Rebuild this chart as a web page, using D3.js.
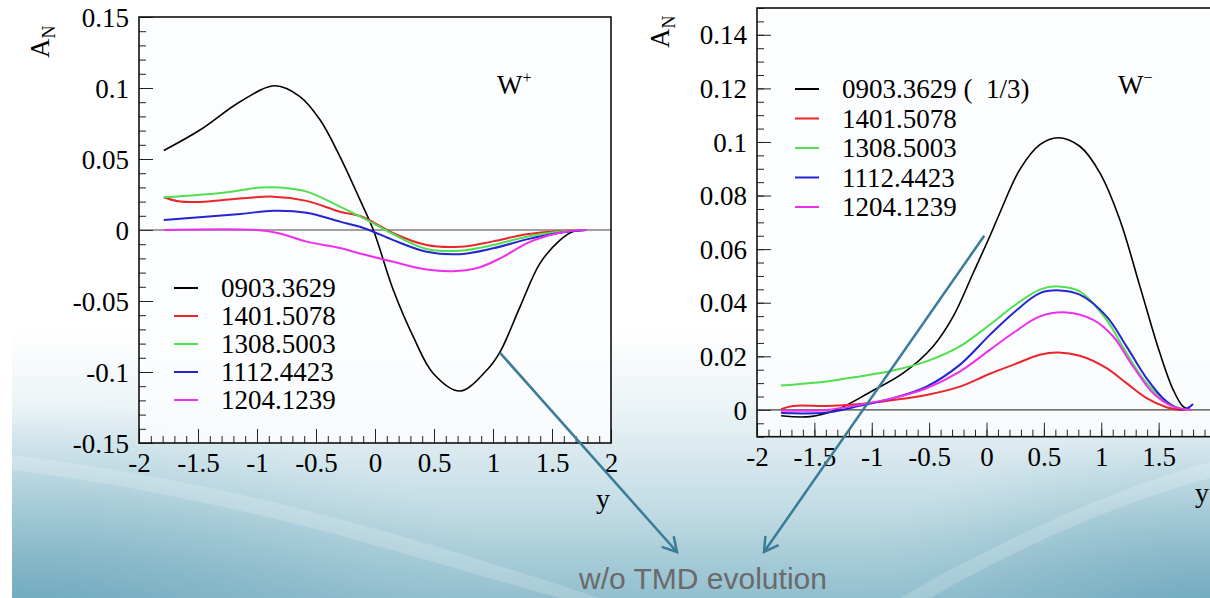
<!DOCTYPE html>
<html>
<head>
<meta charset="utf-8">
<script src="https://cdnjs.cloudflare.com/ajax/libs/d3/7.8.5/d3.min.js"></script>
<style>
body { margin: 0; background: #fff; overflow: hidden; }
svg { display: block; }
.serif { font-family: "Liberation Serif", "Times New Roman", serif; }
</style>
</head>
<body>
<svg id="slide" width="1210" height="598"></svg>
<script>
// tick values
var xTicks = [-2, -1.5, -1, -0.5, 0, 0.5, 1, 1.5, 2];
var yTicksPlus = [-0.15, -0.1, -0.05, 0, 0.05, 0.1, 0.15];
var yTicksMinus = [0, 0.02, 0.04, 0.06, 0.08, 0.1, 0.12, 0.14];

var seriesColors = ["#000000", "#e8262b", "#4fe04f", "#2525d0", "#ee30ee"];
var legendPlus = ["0903.3629", "1401.5078", "1308.5003", "1112.4423", "1204.1239"];
var legendMinus = ["0903.3629 (  1/3)", "1401.5078", "1308.5003", "1112.4423", "1204.1239"];

// W+ panel, [y, A_N]
var wPlus0903 = [[-1.79,0.056],[-1.48,0.0706],[-1.14,0.0905],[-0.847,0.1016],[-0.636,0.094],[-0.466,0.0776],[-0.297,0.0517],[-0.127,0.0212],[-0.014,0],[0.155,-0.0423],[0.325,-0.0753],[0.494,-0.101],[0.72,-0.1134],[0.946,-0.0988],[1.06,-0.0858],[1.229,-0.0541],[1.398,-0.0235],[1.568,-0.0071],[1.68,-0.001],[1.79,0]];
var wPlus1401 = [[-1.79,0.0231],[-1.68,0.0205],[-1.5,0.0197],[-1.285,0.0212],[-0.86,0.0235],[-0.58,0.0205],[-0.297,0.0129],[-0.127,0.0099],[-0.014,0.0054],[0.155,-0.0023],[0.438,-0.0106],[0.72,-0.0118],[1.0,-0.008],[1.285,-0.003],[1.57,-0.0007],[1.79,0]];
var wPlus1308 = [[-1.79,0.0231],[-1.285,0.0263],[-0.975,0.0299],[-0.805,0.0299],[-0.58,0.027],[-0.297,0.0165],[-0.014,0.0047],[0.155,-0.003],[0.438,-0.0134],[0.72,-0.0146],[1.0,-0.0106],[1.285,-0.0047],[1.57,-0.001],[1.79,0]];
var wPlus1112 = [[-1.79,0.0071],[-1.14,0.0113],[-0.86,0.0136],[-0.58,0.0122],[-0.297,0.0059],[-0.127,0.0023],[-0.014,-0.0012],[0.155,-0.0071],[0.438,-0.0153],[0.72,-0.017],[1.0,-0.0129],[1.285,-0.0066],[1.57,-0.0019],[1.79,0]];
var wPlus1204 = [[-1.79,0],[-1.0,0],[-0.805,-0.0024],[-0.58,-0.0082],[-0.297,-0.0127],[-0.127,-0.0165],[0.155,-0.0224],[0.438,-0.0278],[0.66,-0.029],[0.86,-0.027],[1.06,-0.02],[1.285,-0.0094],[1.455,-0.0042],[1.625,-0.001],[1.79,0]];

// W- panel
var wMinus0903 = [[-1.79,-0.0022],[-1.54,-0.0025],[-1.31,0],[-1.02,0.0065],[-0.727,0.0137],[-0.466,0.0237],[-0.29,0.0349],[-0.116,0.0511],[0.029,0.0648],[0.116,0.0735],[0.29,0.0897],[0.465,0.099],[0.624,0.1016],[0.813,0.0984],[0.988,0.0885],[1.162,0.071],[1.337,0.0461],[1.511,0.0212],[1.627,0.0075],[1.714,0.0012],[1.78,0]];
var wMinus1401 = [[-1.79,0.0003],[-1.686,0.0015],[-1.395,0.0015],[-1.105,0.0022],[-0.814,0.0037],[-0.523,0.0056],[-0.233,0.0087],[0.029,0.0135],[0.232,0.0168],[0.465,0.0206],[0.624,0.0214],[0.813,0.0202],[1.046,0.0156],[1.22,0.01],[1.395,0.0044],[1.569,0.001],[1.685,0],[1.79,0]];
var wMinus1308 = [[-1.79,0.0091],[-1.395,0.0106],[-1.105,0.0125],[-0.814,0.0147],[-0.523,0.0181],[-0.233,0.0237],[0.029,0.0318],[0.232,0.0386],[0.465,0.0449],[0.624,0.0461],[0.813,0.0442],[1.046,0.0336],[1.22,0.0212],[1.395,0.01],[1.569,0.0031],[1.685,0.0006],[1.79,0]];
var wMinus1112 = [[-1.79,-0.0012],[-1.395,-0.001],[-1.105,0.0015],[-0.814,0.0044],[-0.523,0.0087],[-0.233,0.0168],[0.029,0.028],[0.232,0.0361],[0.465,0.0436],[0.639,0.0446],[0.813,0.043],[1.046,0.0349],[1.22,0.0237],[1.395,0.0118],[1.569,0.0031],[1.685,0.0003],[1.75,0.0006],[1.8,0.0022]];
var wMinus1204 = [[-1.79,-0.0003],[-1.395,0],[-1.105,0.0019],[-0.814,0.0044],[-0.523,0.0081],[-0.233,0.0143],[0.029,0.0224],[0.232,0.0287],[0.465,0.0349],[0.697,0.0364],[0.93,0.0336],[1.104,0.0274],[1.278,0.0162],[1.453,0.0062],[1.627,0.0012],[1.79,0]];

var svg = d3.select("#slide");
var defs = svg.append("defs");

// slide background: pale top, teal towards the bottom and the two lower corners
var bg = defs.append("linearGradient").attr("id", "bgGrad")
	.attr("gradientUnits", "userSpaceOnUse")
	.attr("x1", 0).attr("y1", 330).attr("x2", 0).attr("y2", 598);
bg.append("stop").attr("offset", "0").attr("stop-color", "#ffffff");
bg.append("stop").attr("offset", "0.3").attr("stop-color", "#eaf3f6");
bg.append("stop").attr("offset", "0.65").attr("stop-color", "#c4dde5");
bg.append("stop").attr("offset", "1").attr("stop-color", "#92bfce");

var corner = defs.append("radialGradient").attr("id", "cornerGrad");
corner.append("stop").attr("offset", "0").attr("stop-color", "#5f9fb5").attr("stop-opacity", 0.85);
corner.append("stop").attr("offset", "0.6").attr("stop-color", "#78afc2").attr("stop-opacity", 0.35);
corner.append("stop").attr("offset", "1").attr("stop-color", "#9cc6d4").attr("stop-opacity", 0);

svg.append("rect").attr("width", 1210).attr("height", 598).attr("fill", "#fff");
svg.append("rect").attr("x", 12).attr("width", 1198).attr("height", 598).attr("fill", "url(#bgGrad)");
svg.append("ellipse").attr("cx", 12).attr("cy", 640).attr("rx", 520).attr("ry", 240)
	.attr("fill", "url(#cornerGrad)");
svg.append("ellipse").attr("cx", 1210).attr("cy", 640).attr("rx", 380).attr("ry", 220)
	.attr("fill", "url(#cornerGrad)");
svg.append("rect").attr("width", 12).attr("height", 598).attr("fill", "#fff");
// faint light streaks
svg.append("path")
	.attr("d", "M12,470 C250,500 420,560 560,598 L600,598 C450,550 260,485 12,455 Z")
	.attr("fill", "#ffffff").attr("opacity", 0.18);
svg.append("path")
	.attr("d", "M900,598 C1000,540 1110,490 1210,462 L1210,478 C1110,505 1010,552 930,598 Z")
	.attr("fill", "#ffffff").attr("opacity", 0.18);

var arrowMarker = defs.append("marker")
	.attr("id", "arrow")
	.attr("markerUnits", "userSpaceOnUse")
	.attr("markerWidth", 24).attr("markerHeight", 24)
	.attr("viewBox", "0 0 24 24")
	.attr("refX", 20).attr("refY", 12)
	.attr("orient", "auto");
arrowMarker.append("path")
	.attr("d", "M6,4 L20,12 L6,20")
	.attr("fill", "none").attr("stroke", "#3a7c98").attr("stroke-width", 2.5);

var line = d3.line().curve(d3.curveCatmullRom.alpha(0.5));

function fmt(d) { return String(d); }

function drawPanel(p) {
	var g = svg.append("g");
	var x0 = p.x.range()[0], x1 = p.x.range()[1];
	var y0 = p.y.range()[0], y1 = p.y.range()[1];

	g.append("rect")
		.attr("x", x0).attr("y", y1)
		.attr("width", x1 - x0).attr("height", y0 - y1)
		.attr("fill", "#fbfdfe").attr("fill-opacity", 0.85);

	// minor ticks
	g.append("g").attr("transform", "translate(0," + y0 + ")")
		.call(d3.axisBottom(p.x).tickValues(d3.range(-20, 21).map(function(d) { return d / 10; }))
			.tickSize(-7).tickFormat(""))
		.call(function(a) { a.select(".domain").remove(); a.selectAll("line").attr("stroke", "#222"); });
	g.append("g").attr("transform", "translate(" + x0 + ",0)")
		.call(d3.axisLeft(p.y).tickValues(p.yMinor).tickSize(-7).tickFormat(""))
		.call(function(a) { a.select(".domain").remove(); a.selectAll("line").attr("stroke", "#222"); });

	// major ticks + labels
	var ax = g.append("g").attr("transform", "translate(0," + y0 + ")")
		.call(d3.axisBottom(p.x).tickValues(xTicks).tickSize(-14).tickPadding(10).tickFormat(fmt));
	var ay = g.append("g").attr("transform", "translate(" + x0 + ",0)")
		.call(d3.axisLeft(p.y).tickValues(p.yTicks).tickSize(-14).tickPadding(10).tickFormat(fmt));
	[ax, ay].forEach(function(a) {
		a.attr("font-family", '"Liberation Serif", "Times New Roman", serif').attr("font-size", 27);
		a.select(".domain").remove();
		a.selectAll("line").attr("stroke", "#222");
		a.selectAll("text").attr("fill", "#000");
	});
	ay.selectAll("text").attr("dy", "0.34em");

	// zero line
	g.append("line")
		.attr("x1", x0).attr("x2", x1)
		.attr("y1", p.y(0)).attr("y2", p.y(0))
		.attr("stroke", "#444").attr("stroke-width", 1.2);

	g.selectAll("path.curve")
		.data(p.series)
		.enter().append("path")
		.attr("class", "curve")
		.attr("d", function(d) { return line(d.map(function(v) { return [p.x(v[0]), p.y(v[1])]; })); })
		.attr("fill", "none")
		.attr("stroke", function(d, i) { return seriesColors[i]; })
		.attr("stroke-width", function(d, i) { return i == 0 ? 1.6 : 2; });

	g.append("rect")
		.attr("x", x0).attr("y", y1)
		.attr("width", x1 - x0).attr("height", y0 - y1)
		.attr("fill", "none").attr("stroke", "#111").attr("stroke-width", 1.6);

	// legend
	var leg = g.append("g").attr("class", "serif");
	var rows = leg.selectAll("g")
		.data(p.labels)
		.enter().append("g")
		.attr("transform", function(d, i) { return "translate(" + p.legX + "," + (p.legY + i * p.legDy) + ")"; });
	rows.append("line")
		.attr("x1", 0).attr("x2", 24)
		.attr("stroke", function(d, i) { return seriesColors[i]; })
		.attr("stroke-width", 2);
	rows.append("text")
		.attr("x", 47).attr("dy", "0.34em")
		.style("font-size", "27px").style("white-space", "pre")
		.text(function(d) { return d; });

	// W label
	var w = g.append("text").attr("class", "serif")
		.attr("x", p.wX).attr("y", 94)
		.style("font-size", "27px");
	w.append("tspan").text("W");
	w.append("tspan").attr("dy", -11).style("font-size", "16px").text(p.wSign);

	// A_N
	var an = g.append("text").attr("class", "serif")
		.attr("transform", "translate(" + p.anX + "," + p.anY + ") rotate(-90)")
		.style("font-size", "27px");
	an.append("tspan").text("A");
	an.append("tspan").attr("dy", 6).style("font-size", "18px").text("N");

	g.append("text").attr("class", "serif")
		.attr("x", p.yLabX).attr("y", p.yLabY)
		.style("font-size", "28px").text("y");
}

var xPlus = d3.scaleLinear().domain([-2, 2]).range([139, 611]);
var yPlus = d3.scaleLinear().domain([-0.15, 0.15]).range([443, 17]);
var xMinus = d3.scaleLinear().domain([-2, 2]).range([757, 1216]);
var yMinus = d3.scaleLinear().domain([-0.01, 0.15]).range([436.7, 8]);

drawPanel({
	x: xPlus, y: yPlus,
	yTicks: yTicksPlus,
	yMinor: d3.range(-15, 16).map(function(d) { return d / 100; }),
	series: [wPlus0903, wPlus1401, wPlus1308, wPlus1112, wPlus1204],
	labels: legendPlus, legX: 174, legY: 288, legDy: 28,
	wX: 497, wSign: "+", anX: 49, anY: 58, yLabX: 596, yLabY: 508
});
drawPanel({
	x: xMinus, y: yMinus,
	yTicks: yTicksMinus,
	yMinor: d3.range(-2, 31).map(function(d) { return d / 200; }),
	series: [wMinus0903, wMinus1401, wMinus1308, wMinus1112, wMinus1204],
	labels: legendMinus, legX: 795, legY: 89, legDy: 29.5,
	wX: 1118, wSign: "\u2212", anX: 669, anY: 48, yLabX: 1195, yLabY: 502
});

// annotation arrows
svg.append("line")
	.attr("x1", xPlus(1.06)).attr("y1", yPlus(-0.0865))
	.attr("x2", 677).attr("y2", 552)
	.attr("stroke", "#3a7c98").attr("stroke-width", 2.5)
	.attr("marker-end", "url(#arrow)");
svg.append("line")
	.attr("x1", xMinus(-0.02)).attr("y1", yMinus(0.065))
	.attr("x2", 764).attr("y2", 552)
	.attr("stroke", "#3a7c98").attr("stroke-width", 2.5)
	.attr("marker-end", "url(#arrow)");

svg.append("text")
	.attr("x", 703).attr("y", 589)
	.attr("text-anchor", "middle")
	.style("font-family", '"Liberation Sans", Arial, sans-serif')
	.style("font-size", "30px")
	.attr("fill", "#6a6a6a")
	.text("w/o TMD evolution");
</script>
</body>
</html>
